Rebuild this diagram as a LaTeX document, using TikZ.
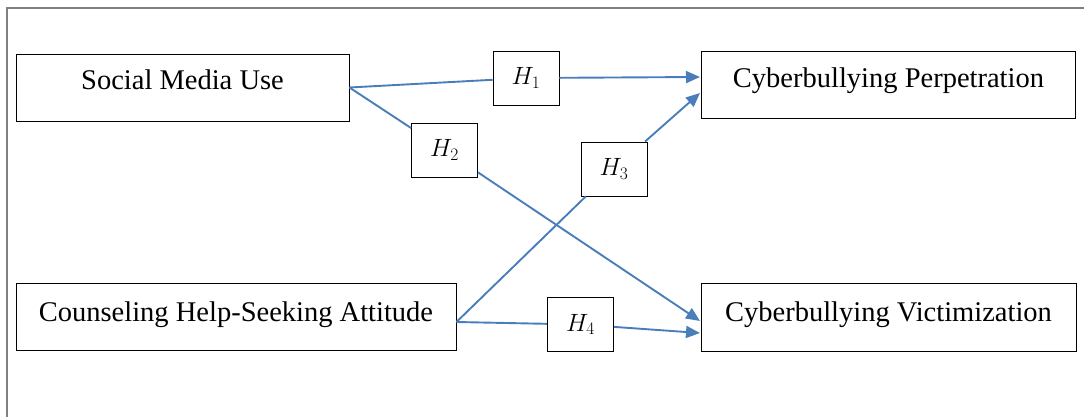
\documentclass[tikz,border=0pt]{standalone}
\usepackage{fix-cm}
\usepackage{fontspec}
\setmainfont{Liberation Serif}
\usetikzlibrary{arrows.meta}
\definecolor{linkblue}{HTML}{4A7EBB}
\definecolor{framegray}{HTML}{808080}
\begin{document}
\begin{tikzpicture}[x=1pt,y=-1pt,
  varbox/.style={draw=black, line width=0.9pt, inner sep=0pt, anchor=base,
    font=\fontsize{28.5}{34}\selectfont},
  hypbox/.style={draw=black, fill=white, line width=0.9pt, inner sep=0pt,
    minimum width=66pt, minimum height=54pt, font=\fontsize{25}{30}\selectfont},
  conn/.style={draw=linkblue, line width=1.9pt},
  arr/.style={conn, -{Triangle[length=14pt,width=12pt]}}]
\useasboundingbox (0,0) rectangle (1084,417);
% frame
\draw[framegray, line width=1.4pt] (7,417) -- (7,8) -- (1084,8);
% variable boxes
\node[varbox, minimum width=333pt, text height=36pt, text depth=31pt] (SMU) at (182.5,90) {Social Media Use};
\node[varbox, minimum width=374pt, text height=37pt, text depth=30pt] (CP) at (888.5,88) {Cyberbullying Perpetration};
\node[varbox, minimum width=440pt, text height=38pt, text depth=29pt] (CHSA) at (236,321) {Counseling Help-Seeking Attitude\hspace{9pt}};
\node[varbox, minimum width=375pt, text height=38pt, text depth=30pt] (CV) at (888.5,321) {Cyberbullying Victimization};
% hypothesis boxes
\node[hypbox] (H1) at (526,78) {$H_1$};
\node[hypbox] (H2) at (444.5,150) {$H_2$};
\node[hypbox] (H3) at (614,169) {$H_3$};
\node[hypbox] (H4) at (580.5,324.5) {$H_4$};
% connector end points
\coordinate (chs) at ([yshift=-5.5pt]CHSA.east);
\coordinate (cpa) at (700,77);
\coordinate (cpb) at (700,93);
\coordinate (cva) at (700,321);
\coordinate (cvb) at (700,333);
% connectors
\draw[conn] (SMU.east) -- (H1);
\draw[arr] (H1) -- (cpa);
\draw[conn] (SMU.east) -- (H2);
\draw[arr] (H2) -- (cva);
\draw[conn] (chs) -- (H3);
\draw[arr] (H3) -- (cpb);
\draw[conn] (chs) -- (H4);
\draw[arr] (H4) -- (cvb);
\end{tikzpicture}
\end{document}
